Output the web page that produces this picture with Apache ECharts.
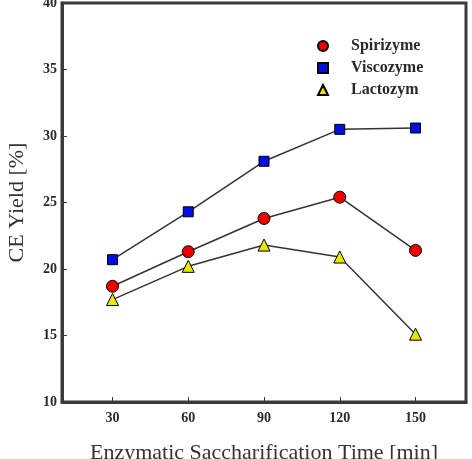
<!DOCTYPE html>
<html>
<head>
<meta charset="utf-8">
<script src="https://cdn.jsdelivr.net/npm/echarts@6/dist/echarts.min.js"></script>
<style>
  html, body { margin: 0; padding: 0; background: #fff; }
  #chart { width: 472px; height: 459px; }
</style>
</head>
<body>
<div id="chart"></div>
<script>
// data
var times = [30, 60, 90, 120, 150];
var spirizyme = [18.7, 21.3, 23.8, 25.4, 21.4];
var viscozyme = [20.7, 24.3, 28.1, 30.5, 30.6];
var lactozym = [17.7, 20.2, 21.8, 20.9, 15.1];
var yTicks = [10, 15, 20, 25, 30, 35, 40];

var serif = '"Liberation Serif", "DejaVu Serif", serif';
var frame = '#3a3a3a';

function pairs(vals) {
    return times.map(function (t, i) { return [t, vals[i]]; });
}

function line(name, vals, symbol, size, color) {
    return {
        name: name,
        type: 'line',
        data: pairs(vals),
        symbol: symbol,
        symbolSize: size,
        lineStyle: { color: '#333', width: 1.5 },
        itemStyle: { color: color, borderColor: '#000', borderWidth: 1 },
        z: 3
    };
}

var chart = echarts.init(document.getElementById('chart'));
chart.setOption({
    animation: false,
    grid: {
        left: 62, right: 6, top: 3, bottom: 57,
        containLabel: false, outerBoundsMode: 'none',
        show: true, borderColor: frame, borderWidth: 3
    },
    legend: {
        orient: 'vertical',
        left: 317, top: 38, padding: 0,
        itemWidth: 10, itemHeight: 10, itemGap: 6,
        textStyle: { fontFamily: serif, fontWeight: 'bold', fontSize: 16, color: '#2a2a2a', padding: [0, 0, 0, 18] },
        data: [
            { name: 'Spirizyme', icon: 'circle' },
            { name: 'Viscozyme', icon: 'rect' },
            { name: 'Lactozym', icon: 'triangle' }
        ]
    },
    xAxis: {
        type: 'value',
        min: 10, max: 170,
        name: 'Enzymatic Saccharification Time [min]',
        nameLocation: 'middle',
        nameGap: 40,
        nameTextStyle: { fontFamily: serif, fontSize: 22, color: '#333', verticalAlign: 'top' },
        axisLine: { show: true, lineStyle: { color: frame, width: 3 } },
        axisTick: { show: true, inside: true, length: 5, customValues: times, lineStyle: { color: frame } },
        axisLabel: { customValues: times, fontFamily: serif, fontWeight: 'bold', fontSize: 14, color: '#2a2a2a', margin: 9 },
        splitLine: { show: false }
    },
    yAxis: {
        type: 'value',
        min: 10, max: 40, interval: 5,
        name: 'CE Yield [%]',
        nameLocation: 'middle',
        nameGap: 34,
        nameTextStyle: { fontFamily: serif, fontSize: 22, color: '#333' },
        axisLine: { show: true, lineStyle: { color: frame, width: 3 } },
        axisTick: { show: true, inside: true, length: 5, customValues: yTicks, lineStyle: { color: frame } },
        axisLabel: { customValues: yTicks, fontFamily: serif, fontWeight: 'bold', fontSize: 14, color: '#2a2a2a', margin: 5 },
        splitLine: { show: false }
    },
    series: [
        line('Spirizyme', spirizyme, 'circle', 12, '#ee0000'),
        line('Viscozyme', viscozyme, 'rect', 10, '#0010e0'),
        line('Lactozym', lactozym, 'triangle', 12, '#e8e800')
    ]
});
</script>
</body>
</html>
